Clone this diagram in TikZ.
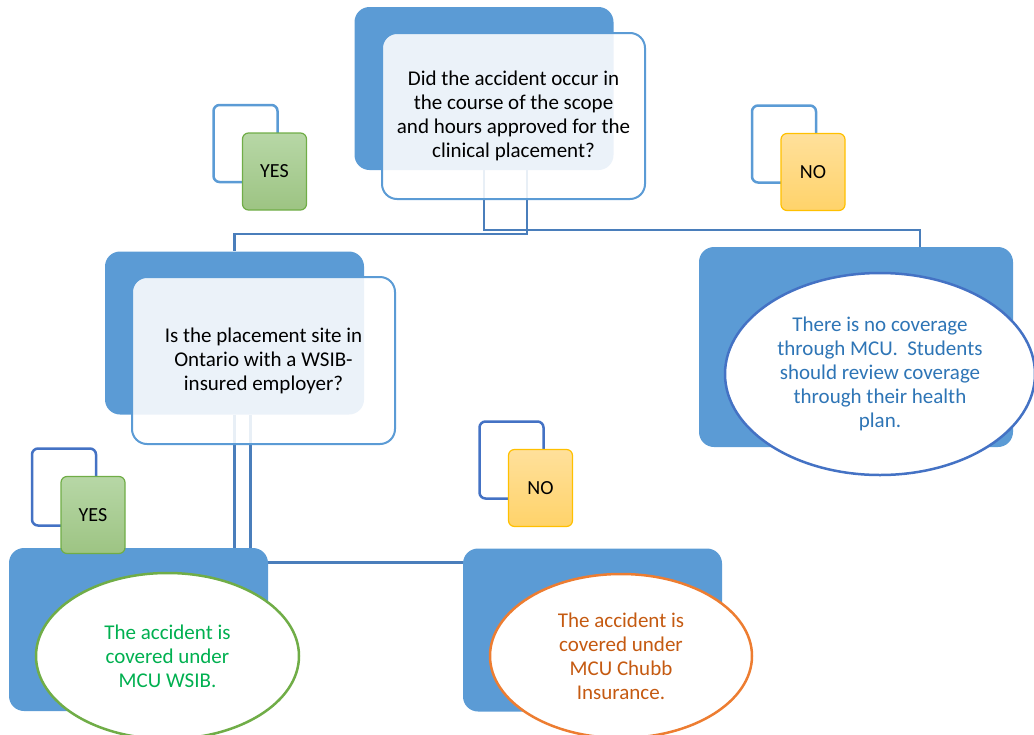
\documentclass[tikz,border=0pt]{standalone}
\usepackage{fontspec}
\setmainfont{Carlito}
\usepackage{xcolor}
\usepackage{tikz}
\usetikzlibrary{shapes.geometric,positioning,backgrounds}
\definecolor{accent}{HTML}{5B9BD5}
\definecolor{linkblue}{HTML}{4A7EBB}
\definecolor{frameblue}{HTML}{4472C4}
\definecolor{yesline}{HTML}{70AD47}
\definecolor{noline}{HTML}{FFC000}
\definecolor{chubbline}{HTML}{ED7D31}
\definecolor{wsibtext}{HTML}{00B050}
\definecolor{chubbtext}{HTML}{C55A11}
\definecolor{nonetext}{HTML}{2E75B6}

\begin{document}
\begin{tikzpicture}[x=1pt,y=-1pt,
  backbox/.style={fill=accent, rounded corners=15pt, minimum width=259pt, minimum height=163pt, inner sep=0pt},
  qbox/.style={draw=accent, line width=2pt, fill=white, fill opacity=0.88, text opacity=1, rounded corners=15pt, minimum width=263pt, minimum height=166pt, align=center, font=\fontsize{21}{24}\selectfont},
  tagframe/.style={draw=#1, line width=2.5pt, rounded corners=6pt, minimum width=64pt, minimum height=77pt},
  yestag/.style={draw=yesline, line width=1.2pt, top color={rgb,255:red,183;green,215;blue,166}, bottom color={rgb,255:red,157;green,196;blue,131}, rounded corners=6pt, minimum width=64pt, minimum height=77pt, font=\fontsize{20}{24}\selectfont},
  notag/.style={draw=noline, line width=1.2pt, top color={rgb,255:red,255;green,224;blue,155}, bottom color={rgb,255:red,255;green,211;blue,106}, rounded corners=6pt, minimum width=64pt, minimum height=77pt, font=\fontsize{20}{24}\selectfont},
  result/.style={ellipse, draw=#1, line width=2.5pt, fill=white, inner sep=0pt, align=center, font=\fontsize{21}{24}\selectfont},
  link/.style={draw=linkblue, line width=2.5pt}
]
\useasboundingbox (0,0) rectangle (1034,734);
\clip (0,0) rectangle (1034,734);

\node[backbox] (q1back) at (484,88.5) {};
\node[backbox] (q2back) at (234.5,333) {};
\node[backbox] (r1back) at (138.5,629.5) {};
\node[backbox] (r2back) at (592.5,630) {};
\node[backbox, minimum width=314pt, minimum height=200pt] (r3back) at (856,347) {};

\begin{pgfonlayer}{background}
\draw[link] (q1back.south) -- ++(0,60) -| ([xshift=64pt]r3back.north);
\draw[link] ([xshift=43pt]q1back.south) -- ++(0,64) -| (q2back.north);
\draw[link] (q2back.south) -- (q2back.south |- r1back.north);
\draw[link] ([xshift=16pt]q2back.south) |- ([yshift=-14pt]r2back.north west);
\end{pgfonlayer}

\node[qbox] (q1) at (513.5,116) {Did the accident occur in\\the course of the scope\\and hours approved for the\\clinical placement?};
\node[qbox, minimum height=167pt] (q2) at (263.5,360.5) {Is the placement site in\\Ontario with a WSIB-\\insured employer?};

\node[tagframe=accent] (yes1frame) at (245.5,143.5) {};
\node[yestag] (yes1) at ([shift={(29,28)}]yes1frame.center) {YES};
\node[tagframe=accent] (no1frame) at (784,144) {};
\node[notag] (no1) at ([shift={(29,28)}]no1frame.center) {NO};
\node[tagframe=frameblue] (yes2frame) at (64,487) {};
\node[yestag] (yes2) at ([shift={(29,28)}]yes2frame.center) {YES};
\node[tagframe=frameblue] (no2frame) at (511.5,460) {};
\node[notag] (no2) at ([shift={(29,28)}]no2frame.center) {NO};

\node[result=yesline, minimum width=263pt, minimum height=166pt, text=wsibtext] (wsib) at (167.5,656) {The accident is\\covered under\\MCU WSIB.};
\node[result=chubbline, minimum width=262pt, minimum height=164pt, text=chubbtext] (chubb) at (621,656) {The accident is\\covered under\\MCU Chubb\\Insurance.};
\node[result=frameblue, minimum width=310pt, minimum height=202pt, text=nonetext] (nocover) at (880,374) {There is no coverage\\through MCU.\ \ Students\\should review coverage\\through their health\\plan.};
\end{tikzpicture}
\end{document}
